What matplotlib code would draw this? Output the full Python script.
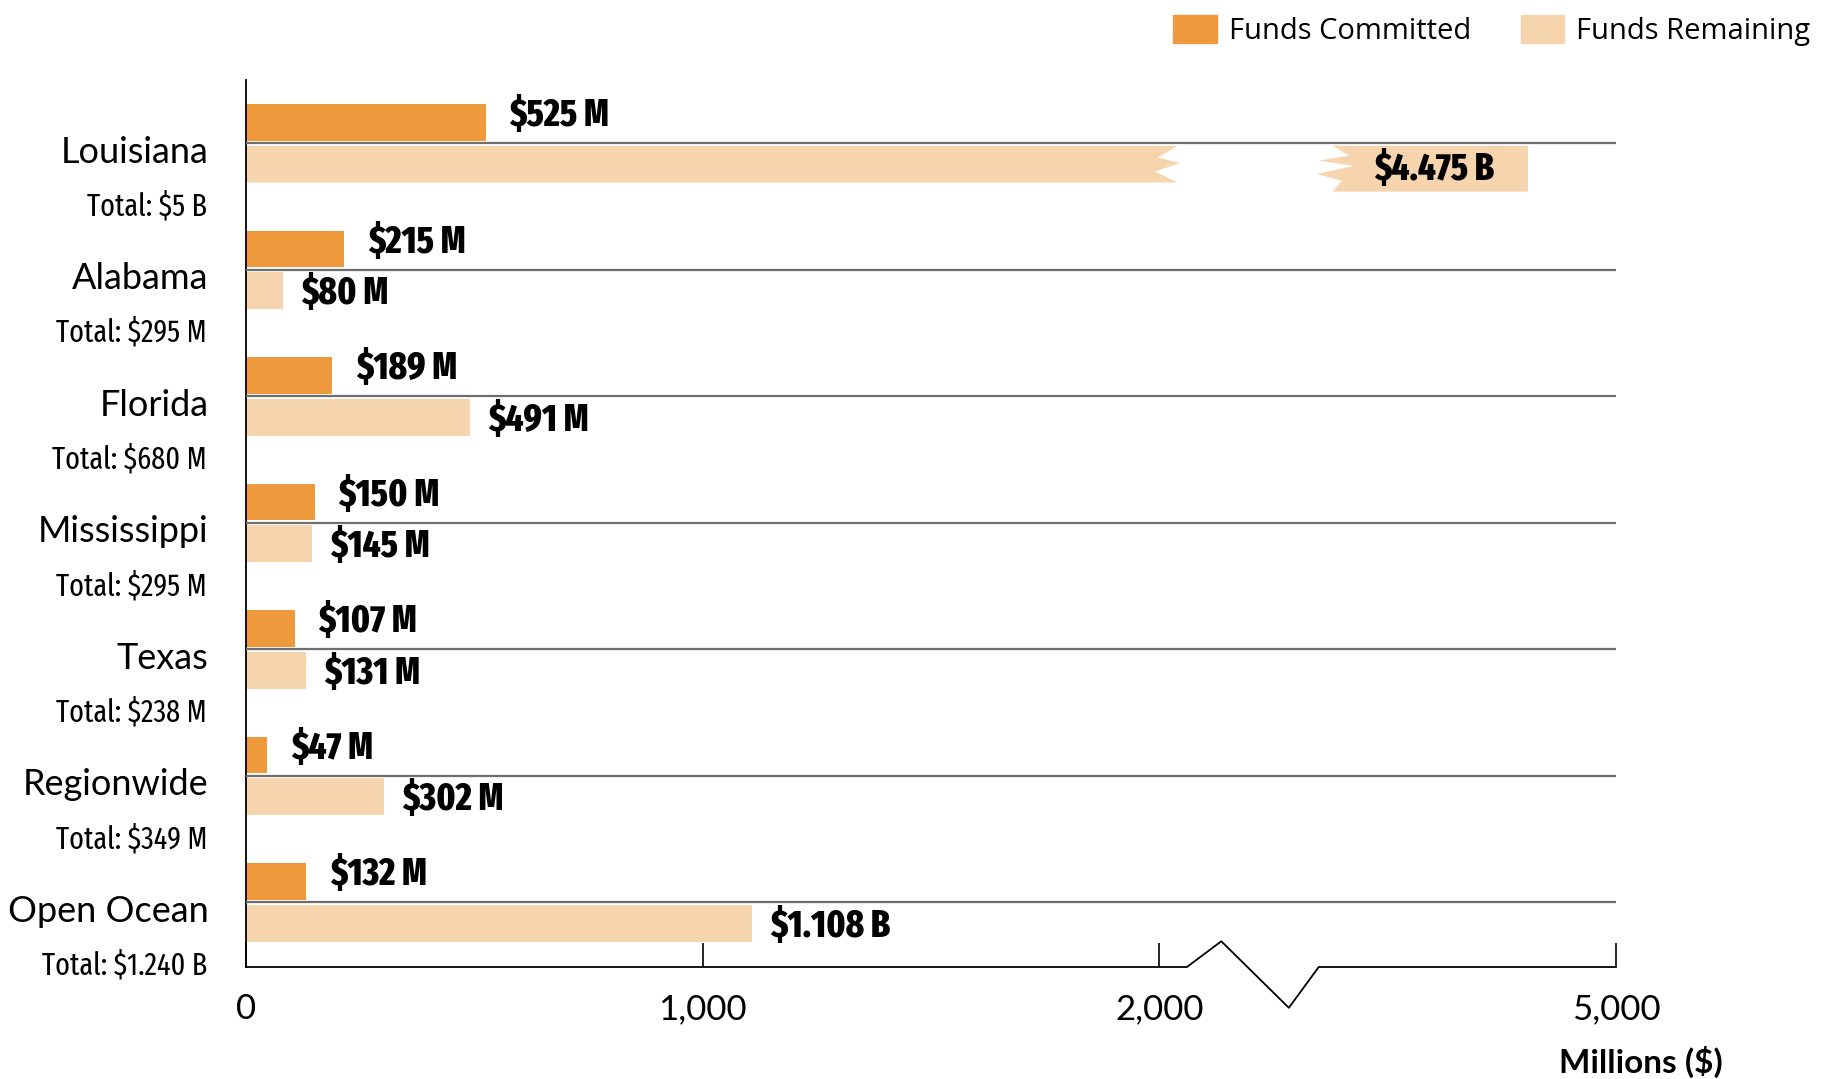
import numpy as np
import matplotlib.pyplot as plt
from matplotlib.patches import Polygon, Patch
from matplotlib.transforms import blended_transform_factory

# data
regions = ["Louisiana", "Alabama", "Florida", "Mississippi", "Texas", "Regionwide", "Open Ocean"]
totals = ["Total: $5 B", "Total: $295 M", "Total: $680 M", "Total: $295 M",
          "Total: $238 M", "Total: $349 M", "Total: $1.240 B"]
committed = [525, 215, 189, 150, 107, 47, 132]
remaining = [4475, 80, 491, 145, 131, 302, 1108]
committed_labels = ["$525 M", "$215 M", "$189 M", "$150 M", "$107 M", "$47 M", "$132 M"]
remaining_labels = ["$4.475 B", "$80 M", "$491 M", "$145 M", "$131 M", "$302 M", "$1.108 B"]
tick_vals = [0, 1000, 2000, 5000]
tick_labels = ["0", "1,000", "2,000", "5,000"]

c_orange = "#EE993B"
c_light = "#F6D4AE"
# condensed faces, first one found is used
narrow = ["Fira Sans Extra Condensed", "Roboto Condensed", "Barlow Condensed",
          "Liberation Sans Narrow", "DejaVu Sans"]

# broken axis: 0-2000 linear, then squeezed up to 5000
brk_data = [0, 2000, 4475, 5000]
brk_axis = [0, 2000, 2807, 3000]
def fwd(x):
    return np.interp(x, brk_data, brk_axis)
def inv(x):
    return np.interp(x, brk_axis, brk_data)

fig = plt.figure(figsize=(18.29, 10.79), dpi=100)
ax = fig.add_axes([246/1829, 1 - 967/1079, 1370/1829, 887/1079])
ax.set_xscale("function", functions=(fwd, inv))
ax.set_xlim(0, 5000)
ax.set_ylim(6.51, -0.5)

h = 0.29
y = np.arange(len(regions))
y_c = y - 0.165
y_r = y + 0.165

ax.barh(y_c, committed, height=h, color=c_orange, zorder=2)

big = [v > 2000 for v in remaining]
for i, v in enumerate(remaining):
    if not big[i]:
        ax.barh(y_r[i], v, height=h, color=c_light, zorder=2)

# gridlines between the pairs
ax.hlines(y, 0, 5000, color="#6e6e6e", lw=1.6, zorder=3)

fig.canvas.draw()
def fx_to_data(f):
    px = ax.transAxes.transform((f, 0))[0]
    return ax.transData.inverted().transform((px, 0))[0]

# the Louisiana bar drawn in two pieces around the break
left_fx = [0.680, 0.6655, 0.6821, 0.6633, 0.680]
left_fy = [0, 0.32, 0.47, 0.70, 1.0]
right_fx = [0.7932, 0.8055, 0.783, 0.8084, 0.7816, 0.7997, 0.7932]
right_fy = [0, 0.27, 0.40, 0.55, 0.77, 0.95, 1.25]
for i, v in enumerate(remaining):
    if big[i]:
        top = y_r[i] - h / 2
        pts = [(0, top)]
        pts += [(fx_to_data(fx), top + fy * h) for fx, fy in zip(left_fx, left_fy)]
        pts += [(0, top + h)]
        ax.add_patch(Polygon(pts, closed=True, color=c_light, lw=0, zorder=2))
        pts = [(fx_to_data(fx), top + fy * h) for fx, fy in zip(right_fx, right_fy)]
        pts += [(v, top + 1.25 * h), (v, top)]
        ax.add_patch(Polygon(pts, closed=True, color=c_light, lw=0, zorder=2))

# value labels
for i in range(len(regions)):
    ax.annotate(committed_labels[i], (committed[i], y_c[i]), xytext=(17, 5),
                textcoords="offset points", ha="left", va="center",
                fontsize=27, fontweight=800, family=narrow, zorder=4)
    if big[i]:
        ax.annotate(remaining_labels[i], (remaining[i], y_r[i] + 0.04), xytext=(-24, 0),
                    textcoords="offset points", ha="right", va="center",
                    fontsize=27, fontweight=800, family=narrow, zorder=4)
    else:
        ax.annotate(remaining_labels[i], (remaining[i], y_r[i]), xytext=(13, -2),
                    textcoords="offset points", ha="left", va="center",
                    fontsize=27, fontweight=800, family=narrow, zorder=4)

# category labels
lab_tr = blended_transform_factory(ax.transAxes, ax.transData)
for i, name in enumerate(regions):
    ax.annotate(name, (0, y[i] + 0.07), xycoords=lab_tr, xytext=(-27, 0),
                textcoords="offset points", ha="right", va="center",
                fontsize=26, family="Lato")
    ax.annotate(totals[i], (0, y[i] + 0.5), xycoords=lab_tr, xytext=(-28, 0),
                textcoords="offset points", ha="right", va="center",
                fontsize=22, family=narrow)

# axes styling
for s in ["top", "right", "bottom"]:
    ax.spines[s].set_visible(False)
ax.spines["left"].set_linewidth(1.3)
ax.set_yticks([])
ax.set_xticks(tick_vals)
ax.set_xticklabels(tick_labels)
ax.tick_params(axis="x", direction="in", length=17, width=1.2, pad=19,
               labelsize=25, labelfontfamily="Lato")

# bottom axis line with a break zigzag
ax.plot([0, 0.6868, 0.7119, 0.7612, 0.783, 1.0], [0, 0, 0.029, -0.046, 0, 0],
        transform=ax.transAxes, color="black", lw=1.3, clip_on=False, zorder=5)

fig.text(1641/1829, 1 - 1062/1079, "Millions ($)", ha="center", va="center",
         fontsize=24, fontweight="bold", family="Lato")

handles = [Patch(color=c_orange, label="Funds Committed"),
           Patch(color=c_light, label="Funds Remaining")]
fig.legend(handles=handles, loc="upper right", bbox_to_anchor=(1.0, 1.004), ncol=2,
           frameon=False, prop={"family": "Open Sans", "size": 21}, borderaxespad=0.25,
           handlelength=1.5, handleheight=1.1, columnspacing=1.7, handletextpad=0.4)

fig.savefig("out.png", dpi=100)
